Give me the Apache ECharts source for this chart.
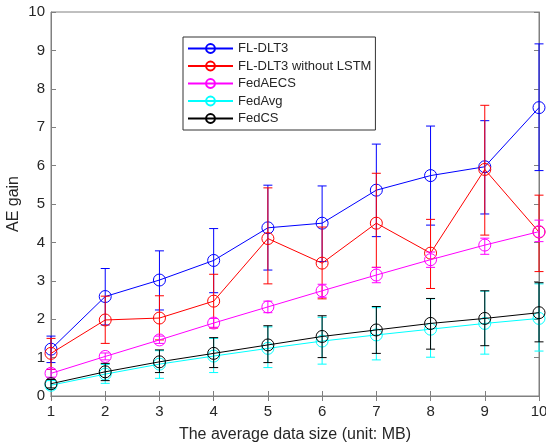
<!DOCTYPE html>
<html>
<head>
<meta charset="utf-8">
<script src="https://cdn.jsdelivr.net/npm/echarts@6/dist/echarts.min.js"></script>
<style>html,body{margin:0;padding:0;background:#fff}#c{width:546px;height:445px}</style>
</head>
<body>
<div id="c"></div>
<script>
const xValues = [1, 2, 3, 4, 5, 6, 7, 8, 9, 10];
const seriesNames = ['FL-DLT3', 'FL-DLT3 without LSTM', 'FedAECS', 'FedAvg', 'FedCS'];

const flMean  = [1.22, 2.59, 3.02, 3.53, 4.38, 4.50, 5.36, 5.74, 5.97, 7.51];
const flUpper = [1.56, 3.32, 3.78, 4.36, 5.49, 5.47, 6.56, 7.03, 7.17, 9.17];
const flLower = [0.87, 1.85, 2.24, 2.69, 3.28, 3.50, 4.15, 4.45, 4.74, 5.87];

const noLstmMean  = [1.11, 1.98, 2.03, 2.47, 4.10, 3.46, 4.50, 3.72, 5.90, 4.27];
const noLstmUpper = [1.50, 2.60, 2.61, 3.17, 5.42, 4.40, 5.80, 4.60, 7.57, 5.23];
const noLstmLower = [0.69, 1.37, 1.46, 1.77, 2.92, 2.53, 3.35, 2.80, 4.19, 3.24];

const aecsMean  = [0.59, 1.03, 1.46, 1.90, 2.32, 2.74, 3.15, 3.55, 3.93, 4.28];
const aecsUpper = [0.70, 1.12, 1.56, 2.02, 2.47, 2.91, 3.35, 3.75, 4.11, 4.58];
const aecsLower = [0.49, 0.94, 1.37, 1.79, 2.17, 2.57, 2.95, 3.35, 3.69, 4.02];

const avgMean  = [0.28, 0.57, 0.83, 1.04, 1.24, 1.43, 1.59, 1.74, 1.89, 2.02];
const avgUpper = [0.40, 0.82, 1.18, 1.50, 1.80, 2.05, 2.30, 2.53, 2.73, 2.92];
const avgLower = [0.17, 0.33, 0.46, 0.61, 0.74, 0.83, 0.94, 1.01, 1.09, 1.17];

const csMean  = [0.32, 0.63, 0.89, 1.11, 1.33, 1.55, 1.72, 1.89, 2.02, 2.17];
const csUpper = [0.43, 0.85, 1.20, 1.52, 1.83, 2.09, 2.33, 2.54, 2.74, 2.95];
const csLower = [0.21, 0.40, 0.61, 0.74, 0.87, 1.00, 1.11, 1.22, 1.31, 1.41];

const xTicks = [1, 2, 3, 4, 5, 6, 7, 8, 9, 10];
const yTicks = [0, 1, 2, 3, 4, 5, 6, 7, 8, 9, 10];

const colors = ['#0000ff', '#ff0000', '#ff00ff', '#00ffff', '#000000'];
const means = [flMean, noLstmMean, aecsMean, avgMean, csMean];
const uppers = [flUpper, noLstmUpper, aecsUpper, avgUpper, csUpper];
const lowers = [flLower, noLstmLower, aecsLower, avgLower, csLower];

const FONT = '"Liberation Sans", Arial, Helvetica, sans-serif';
const AX = '#808080';
const TXT = '#262626';

function errRender(color) {
  return function (params, api) {
    const x = api.value(0);
    const lo = api.coord([x, api.value(1)]);
    const hi = api.coord([x, api.value(2)]);
    const w = 4.5;
    const st = { stroke: color, lineWidth: 1, fill: null };
    return {
      type: 'group',
      children: [
        { type: 'line', shape: { x1: lo[0], y1: lo[1], x2: hi[0], y2: hi[1] }, style: st },
        { type: 'line', shape: { x1: lo[0] - w, y1: lo[1], x2: lo[0] + w, y2: lo[1] }, style: st },
        { type: 'line', shape: { x1: hi[0] - w, y1: hi[1], x2: hi[0] + w, y2: hi[1] }, style: st }
      ]
    };
  };
}

const series = [];
for (let i = 0; i < seriesNames.length; i++) {
  const c = colors[i];
  series.push({
    name: seriesNames[i] + ' err',
    type: 'custom',
    renderItem: errRender(c),
    data: xValues.map((x, k) => [x, lowers[i][k], uppers[i][k]]),
    encode: { x: 0, y: [1, 2] },
    z: 2 + i * 2,
    silent: true
  });
  series.push({
    name: seriesNames[i],
    type: 'line',
    data: xValues.map((x, k) => [x, means[i][k]]),
    symbol: 'circle',
    symbolSize: 12,
    color: c,
    lineStyle: { color: c, width: 1 },
    itemStyle: { color: 'rgba(255,255,255,0)', borderColor: c, borderWidth: 1 },
    z: 3 + i * 2,
    animation: false
  });
}

const chart = echarts.init(document.getElementById('c'), null, { renderer: 'canvas' });
chart.setOption({
  animation: false,
  backgroundColor: '#fff',
  textStyle: { fontFamily: FONT },
  grid: { left: 51, right: 7, top: 12, bottom: 49, outerBoundsMode: 'none', containLabel: false, show: true, borderColor: AX, borderWidth: 1, backgroundColor: 'transparent' },
  legend: {
    data: seriesNames,
    orient: 'vertical',
    left: 183,
    top: 37,
    itemWidth: 45,
    itemHeight: 11,
    itemGap: 4.5,
    itemTextGap: 5,
    padding: [5, 4, 5, 4],
    backgroundColor: '#fff',
    borderColor: '#333',
    borderWidth: 1,
    textStyle: { fontFamily: FONT, fontSize: 13, color: TXT }
  },
  xAxis: [{
    type: 'value', min: 1, max: 10, interval: 1,
    name: 'The average data size (unit: MB)', nameLocation: 'middle', nameGap: 31,
    nameMoveOverlap: false,
    nameTextStyle: { fontFamily: FONT, fontSize: 16, color: TXT },
    axisLine: { show: true, lineStyle: { color: AX } },
    axisTick: { show: true, inside: true, length: 5, lineStyle: { color: AX } },
    axisLabel: { fontFamily: FONT, fontSize: 15, color: TXT, margin: 8 },
    splitLine: { show: false }
  }, {
    type: 'value', min: 1, max: 10, interval: 1, position: 'top',
    axisLine: { show: true, lineStyle: { color: AX } },
    axisTick: { show: true, inside: true, length: 5, lineStyle: { color: AX } },
    axisLabel: { show: false }, splitLine: { show: false }
  }],
  yAxis: [{
    type: 'value', min: 0, max: 10, interval: 1,
    name: 'AE gain', nameLocation: 'middle', nameGap: 29,
    nameMoveOverlap: false,
    nameTextStyle: { fontFamily: FONT, fontSize: 16, color: TXT },
    axisLine: { show: true, lineStyle: { color: AX } },
    axisTick: { show: true, inside: true, length: 5, lineStyle: { color: AX } },
    axisLabel: { fontFamily: FONT, fontSize: 15, color: TXT, margin: 6 },
    splitLine: { show: false }
  }, {
    type: 'value', min: 0, max: 10, interval: 1, position: 'right',
    axisLine: { show: true, lineStyle: { color: AX } },
    axisTick: { show: true, inside: true, length: 5, lineStyle: { color: AX } },
    axisLabel: { show: false }, splitLine: { show: false }
  }],
  series: series
});
</script>
</body>
</html>
